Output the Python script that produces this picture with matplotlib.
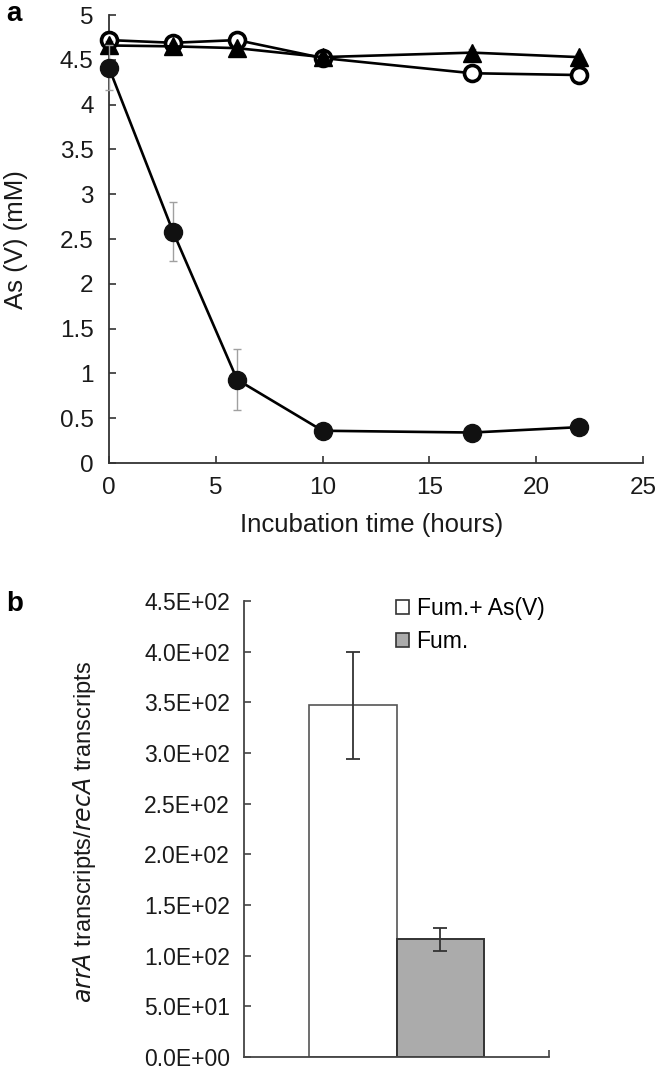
import matplotlib
matplotlib.use("Agg")
import matplotlib.pyplot as plt
from matplotlib.patches import Patch

plt.rcParams['font.family'] = ['Liberation Sans', 'DejaVu Sans']

# panel a: As(V) over time
hours = [0, 3, 6, 10, 17, 22]
cells_asv = [4.41, 2.58, 0.93, 0.36, 0.34, 0.40]
cells_asv_err = [0.25, 0.33, 0.34, 0.04, 0.04, 0.04]
killed = [4.72, 4.69, 4.72, 4.52, 4.35, 4.33]
killed_err = [0.08, 0.04, 0.05, 0.03, 0.04, 0.04]
no_cells = [4.66, 4.65, 4.63, 4.53, 4.58, 4.53]
no_cells_err = [0.05, 0.04, 0.04, 0.03, 0.04, 0.04]

a_xticks = [0, 5, 10, 15, 20, 25]
a_yticks = [0, 0.5, 1, 1.5, 2, 2.5, 3, 3.5, 4, 4.5, 5]
a_ylabels = ["0", "0.5", "1", "1.5", "2", "2.5", "3", "3.5", "4", "4.5", "5"]

# panel b: arrA / recA
conditions = ["Fum.+ As(V)", "Fum."]
ratio = [347, 116]
ratio_err = [53, 11.5]
b_yticks = [0, 50, 100, 150, 200, 250, 300, 350, 400, 450]
b_ylabels = ["0.0E+00", "5.0E+01", "1.0E+02", "1.5E+02", "2.0E+02",
             "2.5E+02", "3.0E+02", "3.5E+02", "4.0E+02", "4.5E+02"]

W, H = 658, 1071
fig = plt.figure(figsize=(W / 100, H / 100), dpi=100)

def box(l, t, r, b):
    return [l / W, 1 - b / H, (r - l) / W, (b - t) / H]

axc = '#333333'
txt = '#1a1a1a'

# ---- panel a
ax = fig.add_axes(box(109, 15, 643, 463))
ecol = '#a0a0a0'
ax.errorbar(hours, killed, yerr=killed_err, color='black', lw=1.9, marker='o',
            ms=11.5, mfc='white', mec='black', mew=2.6, ecolor=ecol, elinewidth=1,
            capsize=3, zorder=3, clip_on=False)
ax.errorbar(hours, no_cells, yerr=no_cells_err, color='black', lw=1.9, marker='^',
            ms=13, mfc='black', mec='black', ecolor=ecol, elinewidth=1,
            capsize=3, zorder=4, clip_on=False)
ax.errorbar(hours, cells_asv, yerr=cells_asv_err, color='black', lw=1.9, marker='o',
            ms=13, mfc='#111111', mec='#111111', ecolor=ecol, elinewidth=1,
            capsize=3, zorder=5, clip_on=False)
ax.set_xlim(0, 25)
ax.set_ylim(0, 5)
ax.set_xticks(a_xticks)
ax.set_yticks(a_yticks)
ax.set_yticklabels(a_ylabels)
for s in ['top', 'right']:
    ax.spines[s].set_visible(False)
for s in ['left', 'bottom']:
    ax.spines[s].set_color(axc)
    ax.spines[s].set_linewidth(1.3)
ax.tick_params(direction='in', length=5, width=1.2, color=axc,
               labelsize=17.5, labelcolor=txt)
ax.tick_params(axis='y', pad=11)
ax.tick_params(axis='x', pad=10)
fig.text(372 / W, 1 - 525 / H, "Incubation time (hours)", ha='center', va='center',
         fontsize=18.5, color=txt)
fig.text(16 / W, 1 - 240 / H, "As (V) (mM)", ha='center', va='center',
         rotation=90, fontsize=18.5, color=txt)
fig.text(6 / W, 1 - 14 / H, "a", ha='left', va='center', fontsize=20,
         fontweight='bold')

# ---- panel b
bx = fig.add_axes(box(244, 601, 549, 1057))
bw = 0.287
pos = [-bw / 2, bw / 2]
bx.bar(pos[0], ratio[0], width=bw, color='white', edgecolor='#555555', lw=1.2,
       zorder=2)
bx.bar(pos[1], ratio[1], width=bw, color='#ababab', edgecolor='#333333', lw=1.4,
       zorder=2)
bx.errorbar(pos, ratio, yerr=ratio_err, fmt='none', ecolor='#333333',
            elinewidth=1.3, capsize=5, capthick=1.3, zorder=3)
bx.set_xlim(-0.5, 0.5)
bx.set_ylim(0, 450)
bx.set_yticks(b_yticks)
bx.set_yticklabels(b_ylabels)
bx.set_xticks([0.5])
bx.set_xticklabels([])
for s in ['top', 'right']:
    bx.spines[s].set_visible(False)
for s in ['left', 'bottom']:
    bx.spines[s].set_color('#444444')
    bx.spines[s].set_linewidth(1.3)
bx.tick_params(axis='y', direction='in', length=5, width=1.2, color='#444444',
               labelsize=16.5, labelcolor=txt, pad=10)
bx.tick_params(axis='x', direction='in', length=5, width=1.2, color='#444444')
fig.text(85 / W, 1 - 832 / H, r"$\it{arrA}$ transcripts/$\it{recA}$ transcripts",
         ha='center', va='center', rotation=90, fontsize=17, color=txt)
handles = [Patch(facecolor='white', edgecolor='#333333', lw=1.2),
           Patch(facecolor='#ababab', edgecolor='#333333', lw=1.2)]
bx.legend(handles, conditions, loc='upper left', bbox_to_anchor=(396 / W, 1 - 597 / H),
          bbox_transform=fig.transFigure, frameon=False, fontsize=16.5,
          handlelength=0.55, handleheight=0.55, handletextpad=0.35,
          labelspacing=0.45, borderaxespad=0, borderpad=0)
fig.text(6 / W, 1 - 604 / H, "b", ha='left', va='center', fontsize=20,
         fontweight='bold')

fig.savefig("out.png", dpi=100)
